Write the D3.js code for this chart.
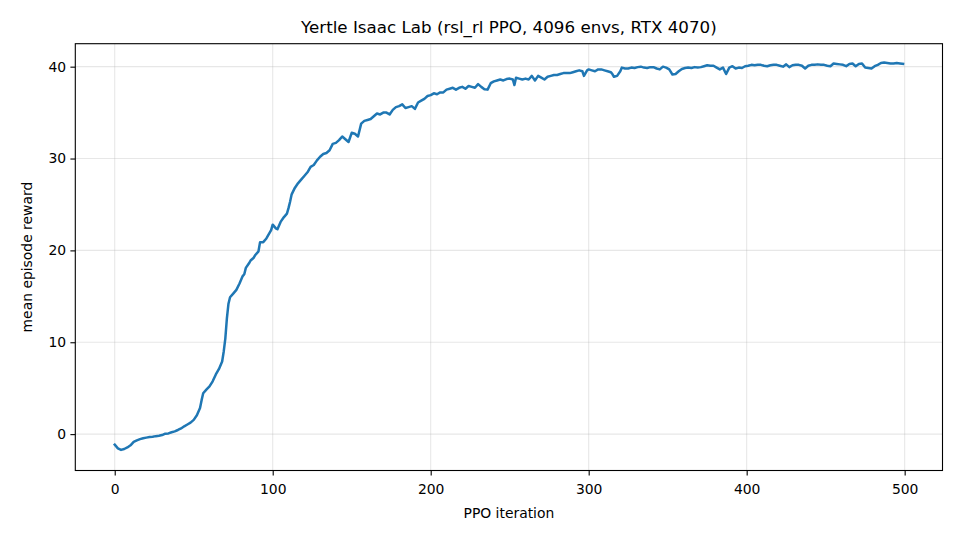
<!DOCTYPE html>
<html>
<head>
<meta charset="utf-8">
<script src="https://cdn.jsdelivr.net/npm/d3@7"></script>
<style>
  html, body { margin: 0; padding: 0; background: #fff; }
  svg { display: block; font-family: "DejaVu Sans", sans-serif; }
</style>
</head>
<body>
<svg id="chart" width="960" height="540"></svg>
<script>
const titleText = "Yertle Isaac Lab (rsl_rl PPO, 4096 envs, RTX 4070)";
const xLabel = "PPO iteration";
const yLabel = "mean episode reward";
const xTicks = [0, 100, 200, 300, 400, 500];
const yTicks = [0, 10, 20, 30, 40];

const iterations = [
  0,2,4,6,8,10,12,14,16,18,20,22,24,26,28,30,32,34,36,38,40,42,44,46,48,50,52,54,55,56,58,60,62,64,66,68,69,70,71,72,73,75,77,79,81,82,83,85,86,88,89,91,92,94,96,98,99,100,102,103,105,107,109,110,111,112,114,116,118,120,122,124,126,128,130,132,134,136,138,140,142,144,146,148,150,152,154,156,158,160,162,164,166,168,170,172,174,176,178,180,182,184,186,188,190,192,194,196,198,200,202,204,206,208,210,212,214,216,218,220,222,224,226,228,230,232,234,236,238,240,242,244,246,248,250,252,253,254,256,258,260,262,264,266,268,270,272,274,276,278,280,282,284,286,288,290,292,294,296,297,299,300,302,304,306,308,310,312,314,315,316,318,320,321,323,325,327,329,331,333,335,337,339,341,343,345,347,349,351,353,355,357,359,361,363,365,367,369,371,373,375,377,379,381,383,385,387,389,391,393,395,397,399,401,403,405,407,409,411,413,415,417,419,421,423,425,427,429,431,433,435,437,439,441,443,445,447,449,451,453,455,457,459,461,463,465,467,469,471,473,475,477,479,481,483,485,487,489,491,493,495,497,499
];
const rewards = [
  -1.15,-1.55,-1.72,-1.62,-1.45,-1.22,-0.85,-0.68,-0.55,-0.45,-0.38,-0.32,-0.28,-0.22,-0.17,-0.10,0.05,0.08,0.20,0.30,0.45,0.62,0.85,1.05,1.25,1.55,2.05,2.85,3.7,4.45,4.85,5.2,5.75,6.5,7.1,7.9,9.0,10.4,12.6,14.2,14.9,15.3,15.7,16.4,17.2,17.4,18.1,18.6,18.9,19.2,19.5,19.9,20.9,20.9,21.3,21.9,22.2,22.8,22.4,22.3,23.1,23.6,24.0,24.6,25.3,26.1,26.8,27.3,27.7,28.1,28.5,29.1,29.3,29.8,30.2,30.5,30.6,30.9,31.6,31.7,32.0,32.4,32.1,31.8,32.8,32.7,32.4,33.8,34.1,34.2,34.3,34.6,34.9,34.8,35.0,35.0,34.8,35.3,35.6,35.7,35.9,35.5,35.6,35.7,35.4,36.1,36.3,36.5,36.8,36.9,37.1,37.0,37.2,37.2,37.5,37.6,37.7,37.5,37.7,37.8,37.6,37.9,37.8,37.7,38.1,37.8,37.55,37.5,38.2,38.4,38.5,38.6,38.5,38.65,38.7,38.6,38.0,38.8,38.7,38.6,38.7,38.6,39.0,38.5,39.0,38.8,38.6,38.9,39.0,39.1,39.1,39.2,39.3,39.3,39.3,39.4,39.5,39.6,39.5,39.0,39.6,39.7,39.6,39.5,39.7,39.7,39.6,39.5,39.4,39.2,38.9,39.0,39.5,39.9,39.8,39.8,39.9,39.85,39.95,40.0,39.9,39.85,39.95,39.95,39.8,39.7,40.0,39.9,39.7,39.15,39.2,39.5,39.75,39.85,39.9,39.85,39.95,39.9,39.95,40.05,40.15,40.1,40.1,39.9,39.7,39.9,39.2,39.9,40.05,39.8,39.9,39.85,40.05,40.1,40.2,40.15,40.2,40.2,40.1,40.05,40.15,40.2,40.2,40.1,40.0,40.25,39.95,40.15,40.2,40.2,40.1,39.8,40.1,40.2,40.2,40.25,40.2,40.2,40.1,40.05,40.35,40.3,40.25,40.2,40.05,40.3,40.35,40.05,40.3,40.35,39.9,39.85,39.8,40.05,40.2,40.4,40.45,40.4,40.35,40.35,40.4,40.35,40.3
];

const data = iterations.map((it, i) => ({ x: it, y: rewards[i] }));

const svg = d3.select("#chart");
const L = 75.3, R = 942.5, T = 43.7, B = 470.5;

const x = d3.scaleLinear().domain([-24.95, 523.95]).range([L, R]);
const y = d3.scaleLinear().domain([-3.96, 42.5]).range([B, T]);

// grid
const grid = svg.append("g");
grid.selectAll("line.gx").data(xTicks).enter().append("line")
  .attr("x1", d => x(d)).attr("x2", d => x(d))
  .attr("y1", T).attr("y2", B)
  .attr("stroke", "#b0b0b0").attr("stroke-opacity", 0.3).attr("stroke-width", 1.1);
grid.selectAll("line.gy").data(yTicks).enter().append("line")
  .attr("x1", L).attr("x2", R)
  .attr("y1", d => y(d)).attr("y2", d => y(d))
  .attr("stroke", "#b0b0b0").attr("stroke-opacity", 0.3).attr("stroke-width", 1.1);

// line
svg.append("clipPath").attr("id", "clip").append("rect")
  .attr("x", L).attr("y", T).attr("width", R - L).attr("height", B - T);
svg.append("path").datum(data)
  .attr("clip-path", "url(#clip)")
  .attr("fill", "none")
  .attr("stroke", "#1f77b4")
  .attr("stroke-width", 2.5)
  .attr("stroke-linejoin", "round")
  .attr("stroke-linecap", "square")
  .attr("d", d3.line().x(d => x(d.x)).y(d => y(d.y)));

// axes
const xAxis = d3.axisBottom(x).tickValues(xTicks).tickSize(4.9).tickPadding(4.2).tickFormat(d3.format("d"));
const yAxis = d3.axisLeft(y).tickValues(yTicks).tickSize(4.9).tickPadding(4.2).tickFormat(d3.format("d"));

const gx = svg.append("g").attr("transform", `translate(0,${B})`).call(xAxis);
const gy = svg.append("g").attr("transform", `translate(${L},0)`).call(yAxis);
[gx, gy].forEach(g => {
  g.select(".domain").remove();
  g.selectAll(".tick line").attr("stroke", "#000").attr("stroke-width", 1.1);
  g.selectAll(".tick text").attr("fill", "#000").style("font-size", "13.9px").style("font-family", "DejaVu Sans");
});
gx.selectAll(".tick text").attr("y", 494 - B).attr("dy", 0);

// frame
svg.append("rect").attr("x", L).attr("y", T).attr("width", R - L).attr("height", B - T)
  .attr("fill", "none").attr("stroke", "#000").attr("stroke-width", 1.1);

// title & labels
svg.append("text").attr("x", (L + R) / 2).attr("y", 33)
  .attr("text-anchor", "middle").style("font-size", "16.7px").attr("fill", "#000")
  .text(titleText);
svg.append("text").attr("x", (L + R) / 2).attr("y", 517.7)
  .attr("text-anchor", "middle").style("font-size", "13.9px").attr("fill", "#000")
  .text(xLabel);
svg.append("text").attr("transform", `translate(31.5,${(T + B) / 2}) rotate(-90)`)
  .attr("text-anchor", "middle").style("font-size", "13.9px").attr("fill", "#000")
  .text(yLabel);
</script>
</body>
</html>
